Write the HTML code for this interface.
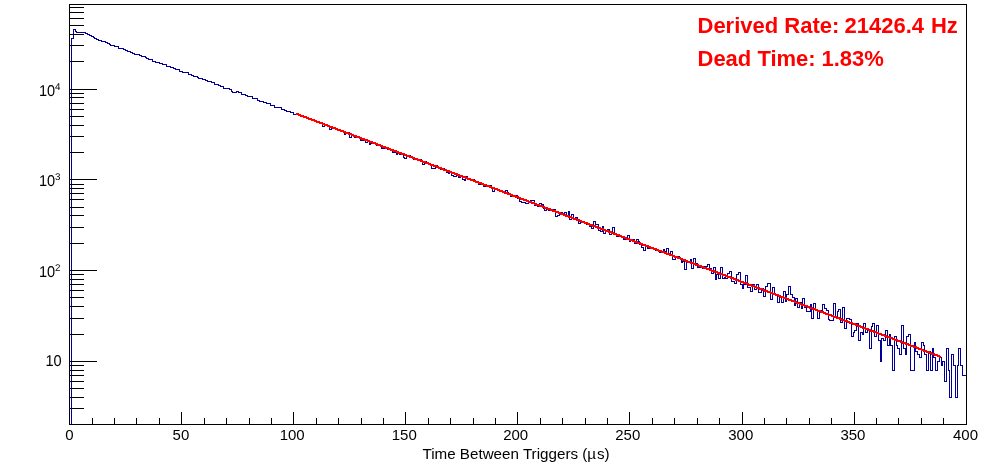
<!DOCTYPE html>
<html><head><meta charset="utf-8"><title>Time Between Triggers</title>
<style>
html,body{margin:0;padding:0;background:#fff;}
body{width:996px;height:472px;overflow:hidden;position:relative;font-family:"Liberation Sans",sans-serif;}
svg{position:absolute;left:0;top:0;display:block;}
text{font-family:"Liberation Sans",sans-serif;}
.ax{font-size:14px;fill:#000;}
.sup{font-size:9.8px;fill:#000;}
.red{font-size:22px;font-weight:bold;fill:#f00;}
</style></head><body>
<svg width="996" height="472" viewBox="0 0 996 472">
<rect x="0" y="0" width="996" height="472" fill="#fff"/>
<g shape-rendering="crispEdges">
<path fill="#000099" d="M69 424h1v1h-1zM69 424h3v1h-3zM71 38h1v387h-1zM71 38h3v1h-3zM73 29h1v10h-1zM73 29h3v1h-3zM75 29h1v3h-1zM75 31h2v1h-2zM76 31h1v2h-1zM76 32h3v1h-3zM78 32h1v1h-1zM78 32h3v1h-3zM80 32h1v1h-1zM80 32h3v1h-3zM82 32h1v1h-1zM82 32h3v1h-3zM84 32h1v1h-1zM84 32h2v1h-2zM85 32h1v2h-1zM85 33h3v1h-3zM87 33h1v2h-1zM87 34h3v1h-3zM89 34h1v2h-1zM89 35h3v1h-3zM91 35h1v2h-1zM91 36h3v1h-3zM93 36h1v2h-1zM93 37h2v1h-2zM94 37h1v2h-1zM94 38h3v1h-3zM96 38h1v2h-1zM96 39h3v1h-3zM98 39h1v2h-1zM98 40h3v1h-3zM100 40h1v1h-1zM100 40h2v1h-2zM101 40h1v2h-1zM101 41h3v1h-3zM103 41h1v1h-1zM103 41h3v1h-3zM105 41h1v2h-1zM105 42h3v1h-3zM107 42h1v2h-1zM107 43h3v1h-3zM109 43h1v2h-1zM109 44h2v1h-2zM110 44h1v2h-1zM110 45h3v1h-3zM112 45h1v1h-1zM112 45h3v1h-3zM114 45h1v2h-1zM114 46h3v1h-3zM116 46h1v1h-1zM116 46h3v1h-3zM118 46h1v3h-1zM118 48h2v1h-2zM119 48h1v1h-1zM119 48h3v1h-3zM121 48h1v1h-1zM121 48h3v1h-3zM123 48h1v2h-1zM123 49h3v1h-3zM125 49h1v2h-1zM125 50h3v1h-3zM127 50h1v2h-1zM127 51h2v1h-2zM128 51h1v1h-1zM128 51h3v1h-3zM130 51h1v2h-1zM130 52h3v1h-3zM132 52h1v2h-1zM132 53h3v1h-3zM134 53h1v2h-1zM134 54h3v1h-3zM136 54h1v1h-1zM136 54h2v1h-2zM137 54h1v1h-1zM137 54h3v1h-3zM139 54h1v2h-1zM139 55h3v1h-3zM141 55h1v2h-1zM141 56h3v1h-3zM143 56h1v1h-1zM143 56h3v1h-3zM145 56h1v2h-1zM145 57h2v1h-2zM146 57h1v2h-1zM146 58h3v1h-3zM148 58h1v2h-1zM148 59h3v1h-3zM150 59h1v1h-1zM150 59h3v1h-3zM152 59h1v3h-1zM152 61h2v1h-2zM153 61h1v1h-1zM153 61h3v1h-3zM155 61h1v2h-1zM155 62h3v1h-3zM157 62h1v1h-1zM157 62h3v1h-3zM159 62h1v2h-1zM159 63h3v1h-3zM161 63h1v1h-1zM161 63h2v1h-2zM162 63h1v2h-1zM162 64h3v1h-3zM164 64h1v1h-1zM164 64h3v1h-3zM166 64h1v3h-1zM166 66h3v1h-3zM168 66h1v1h-1zM168 66h3v1h-3zM170 66h1v2h-1zM170 67h2v1h-2zM171 67h1v1h-1zM171 67h3v1h-3zM173 67h1v2h-1zM173 68h3v1h-3zM175 68h1v2h-1zM175 69h3v1h-3zM177 69h1v1h-1zM177 69h3v1h-3zM179 69h1v3h-1zM179 71h2v1h-2zM180 71h1v1h-1zM180 71h3v1h-3zM182 71h1v2h-1zM182 72h3v1h-3zM184 72h1v1h-1zM184 72h3v1h-3zM186 72h1v1h-1zM186 72h3v1h-3zM188 72h1v3h-1zM188 74h2v1h-2zM189 74h1v1h-1zM189 74h3v1h-3zM191 74h1v2h-1zM191 75h3v1h-3zM193 75h1v2h-1zM193 76h3v1h-3zM195 76h1v1h-1zM195 76h3v1h-3zM197 76h1v2h-1zM197 77h2v1h-2zM198 77h1v2h-1zM198 78h3v1h-3zM200 78h1v1h-1zM200 78h3v1h-3zM202 78h1v2h-1zM202 79h3v1h-3zM204 79h1v1h-1zM204 79h2v1h-2zM205 79h1v2h-1zM205 80h3v1h-3zM207 80h1v2h-1zM207 81h3v1h-3zM209 81h1v1h-1zM209 81h3v1h-3zM211 81h1v2h-1zM211 82h3v1h-3zM213 82h1v1h-1zM213 82h2v1h-2zM214 82h1v3h-1zM214 84h3v1h-3zM216 84h1v1h-1zM216 84h3v1h-3zM218 84h1v2h-1zM218 85h3v1h-3zM220 85h1v2h-1zM220 86h3v1h-3zM222 86h1v1h-1zM222 86h2v1h-2zM223 86h1v3h-1zM223 88h3v1h-3zM225 88h1v1h-1zM225 88h3v1h-3zM227 88h1v1h-1zM227 88h3v1h-3zM229 88h1v2h-1zM229 89h3v1h-3zM231 89h1v3h-1zM231 91h2v1h-2zM232 91h1v2h-1zM232 92h3v1h-3zM234 92h1v1h-1zM234 92h3v1h-3zM236 91h1v2h-1zM236 91h3v1h-3zM238 91h1v2h-1zM238 92h3v1h-3zM240 92h1v1h-1zM240 92h2v1h-2zM241 92h1v3h-1zM241 94h3v1h-3zM243 94h1v1h-1zM243 94h3v1h-3zM245 94h1v2h-1zM245 95h3v1h-3zM247 95h1v2h-1zM247 96h3v1h-3zM249 96h1v1h-1zM249 96h2v1h-2zM250 96h1v1h-1zM250 96h3v1h-3zM252 96h1v3h-1zM252 98h3v1h-3zM254 98h1v1h-1zM254 98h3v1h-3zM256 98h1v1h-1zM256 98h2v1h-2zM257 98h1v3h-1zM257 100h3v1h-3zM259 100h1v2h-1zM259 101h3v1h-3zM261 101h1v1h-1zM261 101h3v1h-3zM263 101h1v2h-1zM263 102h3v1h-3zM265 102h1v1h-1zM265 102h2v1h-2zM266 102h1v2h-1zM266 103h3v1h-3zM268 103h1v1h-1zM268 103h3v1h-3zM270 103h1v3h-1zM270 105h3v1h-3zM272 105h1v1h-1zM272 105h3v1h-3zM274 105h1v3h-1zM274 107h2v1h-2zM275 107h1v1h-1zM275 107h3v1h-3zM277 107h1v1h-1zM277 107h3v1h-3zM279 107h1v1h-1zM279 107h3v1h-3zM281 107h1v3h-1zM281 109h3v1h-3zM283 109h1v1h-1zM283 109h2v1h-2zM284 109h1v2h-1zM284 110h3v1h-3zM286 110h1v2h-1zM286 111h3v1h-3zM288 111h1v1h-1zM288 111h3v1h-3zM290 111h1v2h-1zM290 112h3v1h-3zM292 112h1v1h-1zM292 112h2v1h-2zM293 112h1v3h-1zM293 114h3v1h-3zM295 114h1v1h-1zM295 114h3v1h-3zM297 114h1v1h-1zM297 114h3v1h-3zM299 114h1v2h-1zM299 115h2v1h-2zM300 115h1v2h-1zM300 116h3v1h-3zM302 116h1v1h-1zM302 116h3v1h-3zM304 116h1v2h-1zM304 117h3v1h-3zM306 117h1v2h-1zM306 118h3v1h-3zM308 118h1v1h-1zM308 118h2v1h-2zM309 118h1v1h-1zM309 118h3v1h-3zM311 118h1v3h-1zM311 120h3v1h-3zM313 120h1v1h-1zM313 120h3v1h-3zM315 120h1v2h-1zM315 121h3v1h-3zM317 121h1v2h-1zM317 122h2v1h-2zM318 122h1v1h-1zM318 122h3v1h-3zM320 122h1v1h-1zM320 122h3v1h-3zM322 122h1v5h-1zM322 126h3v1h-3zM324 124h1v3h-1zM324 124h3v1h-3zM326 124h1v2h-1zM326 125h2v1h-2zM327 125h1v2h-1zM327 126h3v1h-3zM329 126h1v4h-1zM329 129h3v1h-3zM331 127h1v3h-1zM331 127h3v1h-3zM333 127h1v2h-1zM333 128h3v1h-3zM335 128h1v1h-1zM335 128h2v1h-2zM336 128h1v2h-1zM336 129h3v1h-3zM338 129h1v2h-1zM338 130h3v1h-3zM340 130h1v1h-1zM340 130h3v1h-3zM342 130h1v2h-1zM342 131h3v1h-3zM344 131h1v4h-1zM344 134h2v1h-2zM345 132h1v3h-1zM345 132h3v1h-3zM347 132h1v1h-1zM347 132h3v1h-3zM349 132h1v6h-1zM349 137h3v1h-3zM351 134h1v4h-1zM351 134h2v1h-2zM352 134h1v2h-1zM352 135h3v1h-3zM354 135h1v3h-1zM354 137h3v1h-3zM356 136h1v2h-1zM356 136h3v1h-3zM358 136h1v2h-1zM358 137h3v1h-3zM360 137h1v4h-1zM360 140h2v1h-2zM361 140h1v1h-1zM361 140h3v1h-3zM363 139h1v2h-1zM363 139h3v1h-3zM365 139h1v4h-1zM365 142h3v1h-3zM367 140h1v3h-1zM367 140h3v1h-3zM369 140h1v5h-1zM369 144h2v1h-2zM370 143h1v2h-1zM370 143h3v1h-3zM372 142h1v2h-1zM372 142h3v1h-3zM374 142h1v2h-1zM374 143h3v1h-3zM376 143h1v3h-1zM376 145h3v1h-3zM378 144h1v2h-1zM378 144h2v1h-2zM379 144h1v2h-1zM379 145h3v1h-3zM381 145h1v4h-1zM381 148h3v1h-3zM383 148h1v1h-1zM383 148h3v1h-3zM385 147h1v2h-1zM385 147h3v1h-3zM387 147h1v3h-1zM387 149h2v1h-2zM388 148h1v2h-1zM388 148h3v1h-3zM390 148h1v2h-1zM390 149h3v1h-3zM392 149h1v4h-1zM392 152h3v1h-3zM394 152h1v1h-1zM394 152h3v1h-3zM396 152h1v3h-1zM396 154h2v1h-2zM397 153h1v2h-1zM397 153h3v1h-3zM399 153h1v2h-1zM399 154h3v1h-3zM401 153h1v2h-1zM401 153h3v1h-3zM403 153h1v5h-1zM403 157h2v1h-2zM404 157h1v2h-1zM404 158h3v1h-3zM406 155h1v4h-1zM406 155h3v1h-3zM408 155h1v1h-1zM408 155h3v1h-3zM410 155h1v3h-1zM410 157h3v1h-3zM412 157h1v1h-1zM412 157h2v1h-2zM413 157h1v3h-1zM413 159h3v1h-3zM415 159h1v1h-1zM415 159h3v1h-3zM417 159h1v1h-1zM417 159h3v1h-3zM419 159h1v1h-1zM419 159h3v1h-3zM421 159h1v2h-1zM421 160h2v1h-2zM422 160h1v5h-1zM422 164h3v1h-3zM424 161h1v4h-1zM424 161h3v1h-3zM426 161h1v2h-1zM426 162h3v1h-3zM428 162h1v2h-1zM428 163h3v1h-3zM430 163h1v3h-1zM430 165h2v1h-2zM431 165h1v4h-1zM431 168h3v1h-3zM433 168h1v1h-1zM433 168h3v1h-3zM435 165h1v4h-1zM435 165h3v1h-3zM437 165h1v3h-1zM437 167h3v1h-3zM439 167h1v1h-1zM439 167h2v1h-2zM440 167h1v3h-1zM440 169h3v1h-3zM442 168h1v2h-1zM442 168h3v1h-3zM444 168h1v2h-1zM444 169h3v1h-3zM446 169h1v4h-1zM446 172h3v1h-3zM448 172h1v2h-1zM448 173h2v1h-2zM449 171h1v3h-1zM449 171h3v1h-3zM451 171h1v5h-1zM451 175h3v1h-3zM453 175h1v2h-1zM453 176h3v1h-3zM455 176h1v1h-1zM455 176h2v1h-2zM456 175h1v2h-1zM456 175h3v1h-3zM458 175h1v3h-1zM458 177h3v1h-3zM460 175h1v3h-1zM460 175h3v1h-3zM462 175h1v5h-1zM462 179h3v1h-3zM464 179h1v2h-1zM464 180h2v1h-2zM465 176h1v5h-1zM465 176h3v1h-3zM467 176h1v4h-1zM467 179h3v1h-3zM469 179h1v1h-1zM469 179h3v1h-3zM471 179h1v2h-1zM471 180h3v1h-3zM473 179h1v2h-1zM473 179h2v1h-2zM474 179h1v3h-1zM474 181h3v1h-3zM476 181h1v2h-1zM476 182h3v1h-3zM478 182h1v3h-1zM478 184h3v1h-3zM480 183h1v2h-1zM480 183h3v1h-3zM482 183h1v2h-1zM482 184h2v1h-2zM483 184h1v3h-1zM483 186h3v1h-3zM485 185h1v2h-1zM485 185h3v1h-3zM487 185h1v1h-1zM487 185h3v1h-3zM489 185h1v1h-1zM489 185h3v1h-3zM491 185h1v3h-1zM491 187h2v1h-2zM492 187h1v5h-1zM492 191h3v1h-3zM494 189h1v3h-1zM494 189h3v1h-3zM496 189h1v1h-1zM496 189h3v1h-3zM498 189h1v2h-1zM498 190h2v1h-2zM499 190h1v2h-1zM499 191h3v1h-3zM501 191h1v1h-1zM501 191h3v1h-3zM503 191h1v2h-1zM503 192h3v1h-3zM505 190h1v3h-1zM505 190h3v1h-3zM507 190h1v3h-1zM507 192h2v1h-2zM508 192h1v3h-1zM508 194h3v1h-3zM510 194h1v3h-1zM510 196h3v1h-3zM512 195h1v2h-1zM512 195h3v1h-3zM514 195h1v2h-1zM514 196h3v1h-3zM516 195h1v2h-1zM516 195h2v1h-2zM517 195h1v4h-1zM517 198h3v1h-3zM519 198h1v4h-1zM519 201h3v1h-3zM521 201h1v2h-1zM521 202h3v1h-3zM523 202h1v1h-1zM523 202h3v1h-3zM525 202h1v2h-1zM525 203h2v1h-2zM526 203h1v1h-1zM526 203h3v1h-3zM528 201h1v3h-1zM528 201h3v1h-3zM530 200h1v2h-1zM530 200h3v1h-3zM532 200h1v1h-1zM532 200h3v1h-3zM534 200h1v6h-1zM534 205h2v1h-2zM535 204h1v2h-1zM535 204h3v1h-3zM537 204h1v3h-1zM537 206h3v1h-3zM539 203h1v4h-1zM539 203h3v1h-3zM541 203h1v2h-1zM541 204h3v1h-3zM543 204h1v5h-1zM543 208h2v1h-2zM544 208h1v3h-1zM544 210h3v1h-3zM546 208h1v3h-1zM546 208h3v1h-3zM548 208h1v3h-1zM548 210h3v1h-3zM550 209h1v2h-1zM550 209h2v1h-2zM551 209h1v2h-1zM551 210h3v1h-3zM553 209h1v2h-1zM553 209h3v1h-3zM555 209h1v8h-1zM555 216h3v1h-3zM557 215h1v2h-1zM557 215h3v1h-3zM559 214h1v2h-1zM559 214h2v1h-2zM560 212h1v3h-1zM560 212h3v1h-3zM562 212h1v3h-1zM562 214h3v1h-3zM564 212h1v3h-1zM564 212h3v1h-3zM566 212h1v4h-1zM566 215h3v1h-3zM568 211h1v5h-1zM568 211h2v1h-2zM569 211h1v9h-1zM569 219h3v1h-3zM571 214h1v6h-1zM571 214h3v1h-3zM573 214h1v6h-1zM573 219h3v1h-3zM575 217h1v3h-1zM575 217h3v1h-3zM577 217h1v3h-1zM577 219h2v1h-2zM578 219h1v5h-1zM578 223h3v1h-3zM580 222h1v2h-1zM580 222h3v1h-3zM582 221h1v2h-1zM582 221h3v1h-3zM584 221h1v2h-1zM584 222h3v1h-3zM586 222h1v3h-1zM586 224h2v1h-2zM587 223h1v2h-1zM587 223h3v1h-3zM589 223h1v4h-1zM589 226h3v1h-3zM591 226h1v3h-1zM591 228h3v1h-3zM593 221h1v8h-1zM593 221h3v1h-3zM595 221h1v4h-1zM595 224h2v1h-2zM596 224h1v1h-1zM596 224h3v1h-3zM598 224h1v7h-1zM598 230h3v1h-3zM600 230h1v2h-1zM600 231h3v1h-3zM602 226h1v6h-1zM602 226h2v1h-2zM603 226h1v8h-1zM603 233h3v1h-3zM605 230h1v4h-1zM605 230h3v1h-3zM607 229h1v2h-1zM607 229h3v1h-3zM609 229h1v6h-1zM609 234h3v1h-3zM611 232h1v3h-1zM611 232h2v1h-2zM612 227h1v6h-1zM612 227h3v1h-3zM614 227h1v8h-1zM614 234h3v1h-3zM616 234h1v3h-1zM616 236h3v1h-3zM618 236h1v1h-1zM618 236h3v1h-3zM620 236h1v1h-1zM620 236h2v1h-2zM621 236h1v1h-1zM621 236h3v1h-3zM623 236h1v4h-1zM623 239h3v1h-3zM625 238h1v2h-1zM625 238h3v1h-3zM627 235h1v4h-1zM627 235h3v1h-3zM629 235h1v7h-1zM629 241h2v1h-2zM630 240h1v2h-1zM630 240h3v1h-3zM632 239h1v2h-1zM632 239h3v1h-3zM634 239h1v5h-1zM634 243h3v1h-3zM636 239h1v5h-1zM636 239h3v1h-3zM638 239h1v3h-1zM638 241h2v1h-2zM639 241h1v4h-1zM639 244h3v1h-3zM641 244h1v4h-1zM641 247h3v1h-3zM643 247h1v4h-1zM643 250h3v1h-3zM645 246h1v5h-1zM645 246h3v1h-3zM647 246h1v3h-1zM647 248h2v1h-2zM648 248h1v1h-1zM648 248h3v1h-3zM650 248h1v1h-1zM650 248h3v1h-3zM652 248h1v1h-1zM652 248h3v1h-3zM654 248h1v1h-1zM654 248h2v1h-2zM655 248h1v3h-1zM655 250h3v1h-3zM657 250h1v1h-1zM657 250h3v1h-3zM659 250h1v3h-1zM659 252h3v1h-3zM661 252h1v1h-1zM661 252h3v1h-3zM663 249h1v4h-1zM663 249h2v1h-2zM664 249h1v3h-1zM664 251h3v1h-3zM666 248h1v4h-1zM666 248h3v1h-3zM668 248h1v7h-1zM668 254h3v1h-3zM670 251h1v4h-1zM670 251h3v1h-3zM672 251h1v9h-1zM672 259h2v1h-2zM673 259h1v1h-1zM673 259h3v1h-3zM675 257h1v3h-1zM675 257h3v1h-3zM677 256h1v2h-1zM677 256h3v1h-3zM679 256h1v3h-1zM679 258h3v1h-3zM681 258h1v5h-1zM681 262h2v1h-2zM682 261h1v2h-1zM682 261h3v1h-3zM684 261h1v9h-1zM684 269h3v1h-3zM686 261h1v9h-1zM686 261h3v1h-3zM688 261h1v2h-1zM688 262h3v1h-3zM690 259h1v4h-1zM690 259h2v1h-2zM691 259h1v10h-1zM691 268h3v1h-3zM693 258h1v11h-1zM693 258h3v1h-3zM695 258h1v6h-1zM695 263h3v1h-3zM697 263h1v5h-1zM697 267h2v1h-2zM698 267h1v1h-1zM698 267h3v1h-3zM700 266h1v2h-1zM700 266h3v1h-3zM702 266h1v3h-1zM702 268h3v1h-3zM704 266h1v3h-1zM704 266h3v1h-3zM706 266h1v1h-1zM706 266h2v1h-2zM707 264h1v3h-1zM707 264h3v1h-3zM709 264h1v5h-1zM709 268h3v1h-3zM711 268h1v6h-1zM711 273h3v1h-3zM713 267h1v7h-1zM713 267h3v1h-3zM715 267h1v13h-1zM715 279h2v1h-2zM716 274h1v6h-1zM716 274h3v1h-3zM718 274h1v5h-1zM718 278h3v1h-3zM720 267h1v12h-1zM720 267h3v1h-3zM722 267h1v12h-1zM722 278h3v1h-3zM724 277h1v2h-1zM724 277h2v1h-2zM725 277h1v2h-1zM725 278h3v1h-3zM727 273h1v6h-1zM727 273h3v1h-3zM729 271h1v3h-1zM729 271h3v1h-3zM731 271h1v11h-1zM731 281h3v1h-3zM733 281h1v1h-1zM733 281h2v1h-2zM734 281h1v3h-1zM734 283h3v1h-3zM736 274h1v10h-1zM736 274h3v1h-3zM738 272h1v3h-1zM738 272h3v1h-3zM740 272h1v13h-1zM740 284h3v1h-3zM742 284h1v5h-1zM742 288h2v1h-2zM743 284h1v5h-1zM743 284h3v1h-3zM745 275h1v10h-1zM745 275h3v1h-3zM747 275h1v13h-1zM747 287h3v1h-3zM749 287h1v1h-1zM749 287h2v1h-2zM750 287h1v5h-1zM750 291h3v1h-3zM752 284h1v8h-1zM752 284h3v1h-3zM754 284h1v6h-1zM754 289h3v1h-3zM756 284h1v6h-1zM756 284h3v1h-3zM758 284h1v9h-1zM758 292h2v1h-2zM759 292h1v1h-1zM759 292h3v1h-3zM761 288h1v5h-1zM761 288h3v1h-3zM763 288h1v9h-1zM763 296h3v1h-3zM765 286h1v11h-1zM765 286h3v1h-3zM767 283h1v4h-1zM767 283h2v1h-2zM768 283h1v1h-1zM768 283h3v1h-3zM770 283h1v17h-1zM770 299h3v1h-3zM772 287h1v13h-1zM772 287h3v1h-3zM774 287h1v8h-1zM774 294h3v1h-3zM776 294h1v2h-1zM776 295h2v1h-2zM777 295h1v8h-1zM777 302h3v1h-3zM779 296h1v7h-1zM779 296h3v1h-3zM781 296h1v7h-1zM781 302h3v1h-3zM783 291h1v12h-1zM783 291h3v1h-3zM785 291h1v11h-1zM785 301h2v1h-2zM786 294h1v8h-1zM786 294h3v1h-3zM788 286h1v9h-1zM788 286h3v1h-3zM790 286h1v9h-1zM790 294h3v1h-3zM792 294h1v4h-1zM792 297h3v1h-3zM794 297h1v9h-1zM794 305h2v1h-2zM795 298h1v8h-1zM795 298h3v1h-3zM797 298h1v10h-1zM797 307h3v1h-3zM799 302h1v6h-1zM799 302h3v1h-3zM801 302h1v7h-1zM801 308h2v1h-2zM802 298h1v11h-1zM802 298h3v1h-3zM804 298h1v10h-1zM804 307h3v1h-3zM806 307h1v5h-1zM806 311h3v1h-3zM808 311h1v1h-1zM808 311h3v1h-3zM810 304h1v8h-1zM810 304h2v1h-2zM811 304h1v15h-1zM811 318h3v1h-3zM813 303h1v16h-1zM813 303h3v1h-3zM815 303h1v8h-1zM815 310h3v1h-3zM817 310h1v9h-1zM817 318h3v1h-3zM819 310h1v9h-1zM819 310h2v1h-2zM820 310h1v1h-1zM820 310h3v1h-3zM822 304h1v7h-1zM822 304h3v1h-3zM824 304h1v5h-1zM824 308h3v1h-3zM826 308h1v3h-1zM826 310h3v1h-3zM828 310h1v10h-1zM828 319h2v1h-2zM829 319h1v2h-1zM829 320h3v1h-3zM831 320h1v1h-1zM831 320h3v1h-3zM833 303h1v18h-1zM833 303h3v1h-3zM835 303h1v15h-1zM835 317h3v1h-3zM837 311h1v7h-1zM837 311h2v1h-2zM838 309h1v3h-1zM838 309h3v1h-3zM840 309h1v14h-1zM840 322h3v1h-3zM842 307h1v16h-1zM842 307h3v1h-3zM844 307h1v22h-1zM844 328h3v1h-3zM846 318h1v11h-1zM846 318h2v1h-2zM847 318h1v1h-1zM847 318h3v1h-3zM849 318h1v2h-1zM849 319h3v1h-3zM851 319h1v18h-1zM851 336h3v1h-3zM853 332h1v5h-1zM853 332h2v1h-2zM854 330h1v3h-1zM854 330h3v1h-3zM856 323h1v8h-1zM856 323h3v1h-3zM858 323h1v18h-1zM858 340h3v1h-3zM860 332h1v9h-1zM860 332h3v1h-3zM862 332h1v3h-1zM862 334h2v1h-2zM863 323h1v12h-1zM863 323h3v1h-3zM865 323h1v10h-1zM865 332h3v1h-3zM867 329h1v4h-1zM867 329h3v1h-3zM869 329h1v20h-1zM869 348h3v1h-3zM871 326h1v23h-1zM871 326h2v1h-2zM872 323h1v4h-1zM872 323h3v1h-3zM874 323h1v14h-1zM874 336h3v1h-3zM876 325h1v12h-1zM876 325h3v1h-3zM878 325h1v16h-1zM878 340h3v1h-3zM880 340h1v22h-1zM880 361h2v1h-2zM881 338h1v24h-1zM881 338h3v1h-3zM883 338h1v3h-1zM883 340h3v1h-3zM885 330h1v11h-1zM885 330h3v1h-3zM887 330h1v16h-1zM887 345h3v1h-3zM889 334h1v12h-1zM889 334h2v1h-2zM890 334h1v12h-1zM890 345h3v1h-3zM892 345h1v26h-1zM892 370h3v1h-3zM894 336h1v35h-1zM894 336h3v1h-3zM896 336h1v10h-1zM896 345h2v1h-2zM897 345h1v4h-1zM897 348h3v1h-3zM899 348h1v7h-1zM899 354h3v1h-3zM901 325h1v30h-1zM901 325h3v1h-3zM903 325h1v24h-1zM903 348h3v1h-3zM905 348h1v7h-1zM905 354h2v1h-2zM906 336h1v19h-1zM906 336h3v1h-3zM908 334h1v3h-1zM908 334h3v1h-3zM910 334h1v37h-1zM910 370h3v1h-3zM912 370h1v1h-1zM912 370h3v1h-3zM914 342h1v29h-1zM914 342h2v1h-2zM915 342h1v10h-1zM915 351h3v1h-3zM917 351h1v4h-1zM917 354h3v1h-3zM919 354h1v4h-1zM919 357h3v1h-3zM921 342h1v16h-1zM921 342h3v1h-3zM923 342h1v4h-1zM923 345h2v1h-2zM924 345h1v10h-1zM924 354h3v1h-3zM926 354h1v17h-1zM926 370h3v1h-3zM928 351h1v20h-1zM928 351h3v1h-3zM930 351h1v20h-1zM930 370h3v1h-3zM932 348h1v23h-1zM932 348h2v1h-2zM933 348h1v10h-1zM933 357h3v1h-3zM935 357h1v14h-1zM935 370h3v1h-3zM937 361h1v10h-1zM937 361h3v1h-3zM939 357h1v5h-1zM939 357h3v1h-3zM941 357h1v9h-1zM941 365h2v1h-2zM942 361h1v5h-1zM942 361h3v1h-3zM944 361h1v21h-1zM944 381h3v1h-3zM946 348h1v34h-1zM946 348h3v1h-3zM948 348h1v23h-1zM948 370h2v1h-2zM949 370h1v28h-1zM949 397h3v1h-3zM951 354h1v44h-1zM951 354h3v1h-3zM953 354h1v12h-1zM953 365h3v1h-3zM955 365h1v33h-1zM955 397h3v1h-3zM957 365h1v33h-1zM957 365h2v1h-2zM958 348h1v18h-1zM958 348h3v1h-3zM960 348h1v18h-1zM960 365h3v1h-3zM962 365h1v11h-1zM962 375h3v1h-3zM964 375h1v1h-1zM964 375h3v1h-3zM966 375h1v50h-1z"/>
<path fill="#f00" d="M296 113h2v2h-2zM298 113h1v3h-1zM299 114h1v2h-1zM300 114h1v3h-1zM301 115h2v2h-2zM303 115h1v3h-1zM304 116h2v2h-2zM306 116h1v3h-1zM307 117h1v2h-1zM308 117h1v3h-1zM309 118h2v2h-2zM311 118h1v3h-1zM312 119h2v2h-2zM314 119h1v3h-1zM315 120h1v2h-1zM316 120h1v3h-1zM317 121h2v2h-2zM319 121h1v3h-1zM320 122h2v2h-2zM322 122h1v3h-1zM323 123h1v2h-1zM324 123h1v3h-1zM325 124h2v2h-2zM327 124h1v3h-1zM328 125h1v2h-1zM329 125h1v3h-1zM330 126h2v2h-2zM332 126h1v3h-1zM333 127h2v2h-2zM335 127h1v3h-1zM336 128h1v2h-1zM337 128h1v3h-1zM338 129h2v2h-2zM340 129h1v3h-1zM341 130h2v2h-2zM343 130h1v3h-1zM344 131h1v2h-1zM345 131h1v3h-1zM346 132h2v2h-2zM348 132h1v3h-1zM349 133h2v2h-2zM351 133h1v3h-1zM352 134h1v2h-1zM353 134h1v3h-1zM354 135h2v2h-2zM356 135h1v3h-1zM357 136h2v2h-2zM359 136h1v3h-1zM360 137h1v2h-1zM361 137h1v3h-1zM362 138h2v2h-2zM364 138h1v3h-1zM365 139h2v2h-2zM367 139h1v3h-1zM368 140h1v2h-1zM369 140h1v3h-1zM370 141h2v2h-2zM372 141h1v3h-1zM373 142h2v2h-2zM375 142h1v3h-1zM376 143h1v2h-1zM377 143h1v3h-1zM378 144h2v2h-2zM380 144h1v3h-1zM381 145h1v2h-1zM382 145h1v3h-1zM383 146h2v2h-2zM385 146h1v3h-1zM386 147h2v2h-2zM388 147h1v3h-1zM389 148h1v2h-1zM390 148h1v3h-1zM391 149h2v2h-2zM393 149h1v3h-1zM394 150h2v2h-2zM396 150h1v3h-1zM397 151h1v2h-1zM398 151h1v3h-1zM399 152h2v2h-2zM401 152h1v3h-1zM402 153h2v2h-2zM404 153h1v3h-1zM405 154h1v2h-1zM406 154h1v3h-1zM407 155h2v2h-2zM409 155h1v3h-1zM410 156h2v2h-2zM412 156h1v3h-1zM413 157h1v2h-1zM414 157h1v3h-1zM415 158h2v2h-2zM417 158h1v3h-1zM418 159h2v2h-2zM420 159h1v3h-1zM421 160h1v2h-1zM422 160h1v3h-1zM423 161h2v2h-2zM425 161h1v3h-1zM426 162h2v2h-2zM428 162h1v3h-1zM429 163h1v2h-1zM430 163h1v3h-1zM431 164h2v2h-2zM433 164h1v3h-1zM434 165h2v2h-2zM436 165h1v3h-1zM437 166h1v2h-1zM438 166h1v3h-1zM439 167h2v2h-2zM441 167h1v3h-1zM442 168h1v2h-1zM443 168h1v3h-1zM444 169h2v2h-2zM446 169h1v3h-1zM447 170h2v2h-2zM449 170h1v3h-1zM450 171h1v2h-1zM451 171h1v3h-1zM452 172h2v2h-2zM454 172h1v3h-1zM455 173h2v2h-2zM457 173h1v3h-1zM458 174h1v2h-1zM459 174h1v3h-1zM460 175h2v2h-2zM462 175h1v3h-1zM463 176h2v2h-2zM465 176h1v3h-1zM466 177h1v2h-1zM467 177h1v3h-1zM468 178h2v2h-2zM470 178h1v3h-1zM471 179h2v2h-2zM473 179h1v3h-1zM474 180h1v2h-1zM475 180h1v3h-1zM476 181h2v2h-2zM478 181h1v3h-1zM479 182h2v2h-2zM481 182h1v3h-1zM482 183h1v2h-1zM483 183h1v3h-1zM484 184h2v2h-2zM486 184h1v3h-1zM487 185h2v2h-2zM489 185h1v3h-1zM490 186h1v2h-1zM491 186h1v3h-1zM492 187h2v2h-2zM494 187h1v3h-1zM495 188h2v2h-2zM497 188h1v3h-1zM498 189h1v2h-1zM499 189h1v3h-1zM500 190h2v2h-2zM502 190h1v3h-1zM503 191h1v2h-1zM504 191h1v3h-1zM505 192h2v2h-2zM507 192h1v3h-1zM508 193h2v2h-2zM510 193h1v3h-1zM511 194h1v2h-1zM512 194h1v3h-1zM513 195h2v2h-2zM515 195h1v3h-1zM516 196h2v2h-2zM518 196h1v3h-1zM519 197h1v2h-1zM520 197h1v3h-1zM521 198h2v2h-2zM523 198h1v3h-1zM524 199h2v2h-2zM526 199h1v3h-1zM527 200h1v2h-1zM528 200h1v3h-1zM529 201h2v2h-2zM531 201h1v3h-1zM532 202h2v2h-2zM534 202h1v3h-1zM535 203h1v2h-1zM536 203h1v3h-1zM537 204h2v2h-2zM539 204h1v3h-1zM540 205h2v2h-2zM542 205h1v3h-1zM543 206h1v2h-1zM544 206h1v3h-1zM545 207h2v2h-2zM547 207h1v3h-1zM548 208h2v2h-2zM550 208h1v3h-1zM551 209h1v2h-1zM552 209h1v3h-1zM553 210h2v2h-2zM555 210h1v3h-1zM556 211h2v2h-2zM558 211h1v3h-1zM559 212h1v2h-1zM560 212h1v3h-1zM561 213h2v2h-2zM563 213h1v3h-1zM564 214h1v2h-1zM565 214h1v3h-1zM566 215h2v2h-2zM568 215h1v3h-1zM569 216h2v2h-2zM571 216h1v3h-1zM572 217h1v2h-1zM573 217h1v3h-1zM574 218h2v2h-2zM576 218h1v3h-1zM577 219h2v2h-2zM579 219h1v3h-1zM580 220h1v2h-1zM581 220h1v3h-1zM582 221h2v2h-2zM584 221h1v3h-1zM585 222h2v2h-2zM587 222h1v3h-1zM588 223h1v2h-1zM589 223h1v3h-1zM590 224h2v2h-2zM592 224h1v3h-1zM593 225h2v2h-2zM595 225h1v3h-1zM596 226h1v2h-1zM597 226h1v3h-1zM598 227h2v2h-2zM600 227h1v3h-1zM601 228h2v2h-2zM603 228h1v3h-1zM604 229h1v2h-1zM605 229h1v3h-1zM606 230h2v2h-2zM608 230h1v3h-1zM609 231h2v2h-2zM611 231h1v3h-1zM612 232h1v2h-1zM613 232h1v3h-1zM614 233h2v2h-2zM616 233h1v3h-1zM617 234h2v2h-2zM619 234h1v3h-1zM620 235h1v2h-1zM621 235h1v3h-1zM622 236h2v2h-2zM624 236h1v3h-1zM625 237h1v2h-1zM626 237h1v3h-1zM627 238h2v2h-2zM629 238h1v3h-1zM630 239h2v2h-2zM632 239h1v3h-1zM633 240h1v2h-1zM634 240h1v3h-1zM635 241h2v2h-2zM637 241h1v3h-1zM638 242h2v2h-2zM640 242h1v3h-1zM641 243h1v2h-1zM642 243h1v3h-1zM643 244h2v2h-2zM645 244h1v3h-1zM646 245h2v2h-2zM648 245h1v3h-1zM649 246h1v2h-1zM650 246h1v3h-1zM651 247h2v2h-2zM653 247h1v3h-1zM654 248h2v2h-2zM656 248h1v3h-1zM657 249h1v2h-1zM658 249h1v3h-1zM659 250h2v2h-2zM661 250h1v3h-1zM662 251h2v2h-2zM664 251h1v3h-1zM665 252h1v2h-1zM666 252h1v3h-1zM667 253h2v2h-2zM669 253h1v3h-1zM670 254h2v2h-2zM672 254h1v3h-1zM673 255h1v2h-1zM674 255h1v3h-1zM675 256h2v2h-2zM677 256h1v3h-1zM678 257h2v2h-2zM680 257h1v3h-1zM681 258h1v2h-1zM682 258h1v3h-1zM683 259h2v2h-2zM685 259h1v3h-1zM686 260h1v2h-1zM687 260h1v3h-1zM688 261h2v2h-2zM690 261h1v3h-1zM691 262h2v2h-2zM693 262h1v3h-1zM694 263h1v2h-1zM695 263h1v3h-1zM696 264h2v2h-2zM698 264h1v3h-1zM699 265h2v2h-2zM701 265h1v3h-1zM702 266h1v2h-1zM703 266h1v3h-1zM704 267h2v2h-2zM706 267h1v3h-1zM707 268h2v2h-2zM709 268h1v3h-1zM710 269h1v2h-1zM711 269h1v3h-1zM712 270h2v2h-2zM714 270h1v3h-1zM715 271h2v2h-2zM717 271h1v3h-1zM718 272h1v2h-1zM719 272h1v3h-1zM720 273h2v2h-2zM722 273h1v3h-1zM723 274h2v2h-2zM725 274h1v3h-1zM726 275h1v2h-1zM727 275h1v3h-1zM728 276h2v2h-2zM730 276h1v3h-1zM731 277h2v2h-2zM733 277h1v3h-1zM734 278h1v2h-1zM735 278h1v3h-1zM736 279h2v2h-2zM738 279h1v3h-1zM739 280h1v2h-1zM740 280h1v3h-1zM741 281h2v2h-2zM743 281h1v3h-1zM744 282h2v2h-2zM746 282h1v3h-1zM747 283h1v2h-1zM748 283h1v3h-1zM749 284h2v2h-2zM751 284h1v3h-1zM752 285h2v2h-2zM754 285h1v3h-1zM755 286h1v2h-1zM756 286h1v3h-1zM757 287h2v2h-2zM759 287h1v3h-1zM760 288h2v2h-2zM762 288h1v3h-1zM763 289h1v2h-1zM764 289h1v3h-1zM765 290h2v2h-2zM767 290h1v3h-1zM768 291h2v2h-2zM770 291h1v3h-1zM771 292h1v2h-1zM772 292h1v3h-1zM773 293h2v2h-2zM775 293h1v3h-1zM776 294h2v2h-2zM778 294h1v3h-1zM779 295h1v2h-1zM780 295h1v3h-1zM781 296h2v2h-2zM783 296h1v3h-1zM784 297h2v2h-2zM786 297h1v3h-1zM787 298h1v2h-1zM788 298h1v3h-1zM789 299h2v2h-2zM791 299h1v3h-1zM792 300h2v2h-2zM794 300h1v3h-1zM795 301h1v2h-1zM796 301h1v3h-1zM797 302h2v2h-2zM799 302h1v3h-1zM800 303h1v2h-1zM801 303h1v3h-1zM802 304h2v2h-2zM804 304h1v3h-1zM805 305h2v2h-2zM807 305h1v3h-1zM808 306h1v2h-1zM809 306h1v3h-1zM810 307h2v2h-2zM812 307h1v3h-1zM813 308h2v2h-2zM815 308h1v3h-1zM816 309h1v2h-1zM817 309h1v3h-1zM818 310h2v2h-2zM820 310h1v3h-1zM821 311h2v2h-2zM823 311h1v3h-1zM824 312h1v2h-1zM825 312h1v3h-1zM826 313h2v2h-2zM828 313h1v3h-1zM829 314h2v2h-2zM831 314h1v3h-1zM832 315h1v2h-1zM833 315h1v3h-1zM834 316h2v2h-2zM836 316h1v3h-1zM837 317h2v2h-2zM839 317h1v3h-1zM840 318h1v2h-1zM841 318h1v3h-1zM842 319h2v2h-2zM844 319h1v3h-1zM845 320h2v2h-2zM847 320h1v3h-1zM848 321h1v2h-1zM849 321h1v3h-1zM850 322h2v2h-2zM852 322h1v3h-1zM853 323h2v2h-2zM855 323h1v3h-1zM856 324h1v2h-1zM857 324h1v3h-1zM858 325h2v2h-2zM860 325h1v3h-1zM861 326h1v2h-1zM862 326h1v3h-1zM863 327h2v2h-2zM865 327h1v3h-1zM866 328h2v2h-2zM868 328h1v3h-1zM869 329h1v2h-1zM870 329h1v3h-1zM871 330h2v2h-2zM873 330h1v3h-1zM874 331h2v2h-2zM876 331h1v3h-1zM877 332h1v2h-1zM878 332h1v3h-1zM879 333h2v2h-2zM881 333h1v3h-1zM882 334h2v2h-2zM884 334h1v3h-1zM885 335h1v2h-1zM886 335h1v3h-1zM887 336h2v2h-2zM889 336h1v3h-1zM890 337h2v2h-2zM892 337h1v3h-1zM893 338h1v2h-1zM894 338h1v3h-1zM895 339h2v2h-2zM897 339h1v3h-1zM898 340h2v2h-2zM900 340h1v3h-1zM901 341h1v2h-1zM902 341h1v3h-1zM903 342h2v2h-2zM905 342h1v3h-1zM906 343h2v2h-2zM908 343h1v3h-1zM909 344h1v2h-1zM910 344h1v3h-1zM911 345h2v2h-2zM913 345h1v3h-1zM914 346h2v2h-2zM916 346h1v3h-1zM917 347h1v2h-1zM918 347h1v3h-1zM919 348h2v2h-2zM921 348h1v3h-1zM922 349h1v2h-1zM923 349h1v3h-1zM924 350h2v2h-2zM926 350h1v3h-1zM927 351h2v2h-2zM929 351h1v3h-1zM930 352h1v2h-1zM931 352h1v3h-1zM932 353h2v2h-2zM934 353h1v3h-1zM935 354h2v2h-2zM937 354h1v3h-1zM938 355h1v2h-1zM939 355h1v3h-1zM940 356h1v2h-1z"/>
<path fill="#000" d="M69 4h898v1h-898zM69 424h898v1h-898zM69 4h1v421h-1zM966 4h1v421h-1zM69 412h1v13h-1zM92 418h1v7h-1zM114 418h1v7h-1zM136 418h1v7h-1zM159 418h1v7h-1zM181 412h1v13h-1zM204 418h1v7h-1zM226 418h1v7h-1zM249 418h1v7h-1zM271 418h1v7h-1zM293 412h1v13h-1zM316 418h1v7h-1zM338 418h1v7h-1zM361 418h1v7h-1zM383 418h1v7h-1zM405 412h1v13h-1zM428 418h1v7h-1zM450 418h1v7h-1zM473 418h1v7h-1zM495 418h1v7h-1zM517 412h1v13h-1zM540 418h1v7h-1zM562 418h1v7h-1zM585 418h1v7h-1zM607 418h1v7h-1zM629 412h1v13h-1zM652 418h1v7h-1zM674 418h1v7h-1zM697 418h1v7h-1zM719 418h1v7h-1zM742 412h1v13h-1zM764 418h1v7h-1zM786 418h1v7h-1zM809 418h1v7h-1zM831 418h1v7h-1zM854 412h1v13h-1zM876 418h1v7h-1zM898 418h1v7h-1zM921 418h1v7h-1zM943 418h1v7h-1zM966 412h1v13h-1zM69 89h28v1h-28zM69 179h28v1h-28zM69 270h28v1h-28zM69 361h28v1h-28zM69 7h15v1h-15zM69 12h15v1h-15zM69 18h15v1h-15zM69 25h15v1h-15zM69 34h15v1h-15zM69 45h15v1h-15zM69 61h15v1h-15zM69 93h15v1h-15zM69 97h15v1h-15zM69 103h15v1h-15zM69 109h15v1h-15zM69 116h15v1h-15zM69 125h15v1h-15zM69 136h15v1h-15zM69 152h15v1h-15zM69 184h15v1h-15zM69 188h15v1h-15zM69 193h15v1h-15zM69 199h15v1h-15zM69 207h15v1h-15zM69 215h15v1h-15zM69 227h15v1h-15zM69 243h15v1h-15zM69 274h15v1h-15zM69 279h15v1h-15zM69 284h15v1h-15zM69 290h15v1h-15zM69 297h15v1h-15zM69 306h15v1h-15zM69 318h15v1h-15zM69 334h15v1h-15zM69 365h15v1h-15zM69 370h15v1h-15zM69 375h15v1h-15zM69 381h15v1h-15zM69 388h15v1h-15zM69 397h15v1h-15zM69 408h15v1h-15z"/>
</g>
<g class="ax" text-anchor="middle" style="font-size:15px">
<text x="69.3" y="440">0</text>
<text x="180.9" y="440">50</text>
<text x="292.2" y="440">100</text>
<text x="404.3" y="440">150</text>
<text x="515.7" y="440">200</text>
<text x="627.8" y="440">250</text>
<text x="740.8" y="440">300</text>
<text x="852.9" y="440">350</text>
<text x="965.5" y="440">400</text>
<text x="516" y="458.5" style="font-size:15.2px">Time Between Triggers (µ<tspan dx="0.8">s)</tspan></text>
</g>
<g class="ax" text-anchor="end" style="font-size:15.2px;text-rendering:geometricPrecision">
<text x="55.1" y="96" style="font-size:15.6px" textLength="16.2" lengthAdjust="spacingAndGlyphs">10</text>
<text x="55.1" y="186" style="font-size:15.6px" textLength="16.2" lengthAdjust="spacingAndGlyphs">10</text>
<text x="55.1" y="277" style="font-size:15.6px" textLength="16.2" lengthAdjust="spacingAndGlyphs">10</text>
<text x="61.6" y="366" style="font-size:15.6px" textLength="16.2" lengthAdjust="spacingAndGlyphs">10</text>
</g>
<g class="sup" style="text-rendering:geometricPrecision">
<text x="55.0" y="89.6">4</text>
<text x="55.0" y="179.6">3</text>
<text x="55.0" y="270.6">2</text>
</g>
<g class="red">
<text x="697.5" y="33">Derived Rate: <tspan dx="-1">21426.4</tspan><tspan dx="0.8"> Hz</tspan></text>
<text x="697.5" y="66">Dead Time: <tspan dx="-0.4">1.83%</tspan></text>
</g>
</svg>
</body></html>
